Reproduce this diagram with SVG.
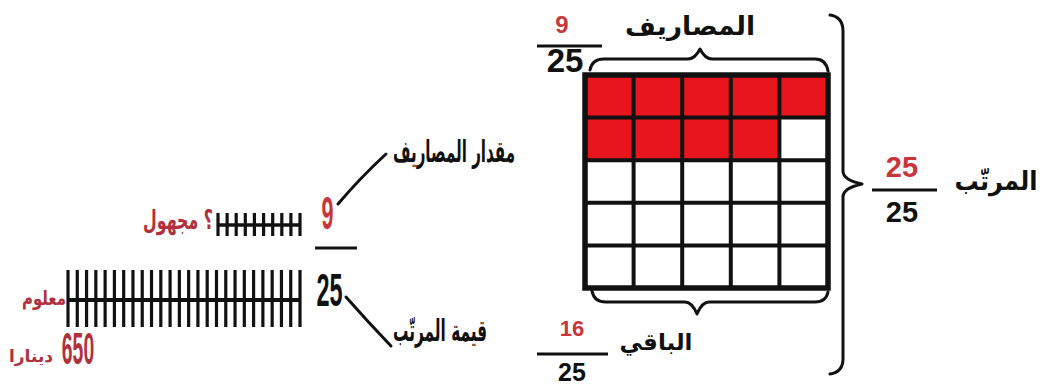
<svg xmlns="http://www.w3.org/2000/svg" width="1044" height="386" viewBox="0 0 1044 386">
<style>
.ar{font-family:"DejaVu Sans","Noto Sans",sans-serif;font-weight:bold;fill:#111;text-anchor:middle}
.arr{font-family:"DejaVu Sans","Noto Sans",sans-serif;font-weight:bold;fill:#b2303c;text-anchor:middle}
.num{font-family:"Liberation Sans",Arial,sans-serif;font-weight:bold;fill:#111;text-anchor:middle}
.numr{font-family:"Liberation Sans",Arial,sans-serif;font-weight:bold;fill:#c8353a;text-anchor:middle}
.ln{stroke:#111;fill:none;stroke-linecap:round;stroke-linejoin:round}
.red{fill:#e8161c}
.tick{stroke:#111;stroke-width:3.2}
</style>
<rect width="1044" height="386" fill="#fff"/>

<g id="grid">
  <g class="red">
    <rect x="585" y="75" width="243" height="42.6"/>
    <rect x="585" y="117.6" width="194.4" height="42.6"/>
  </g>
  <g stroke="#111" stroke-width="4" fill="none">
    <line x1="633.6" y1="75" x2="633.6" y2="288"/>
    <line x1="682.2" y1="75" x2="682.2" y2="288"/>
    <line x1="730.8" y1="75" x2="730.8" y2="288"/>
    <line x1="779.4" y1="75" x2="779.4" y2="288"/>
    <line x1="585" y1="117.6" x2="828" y2="117.6"/>
    <line x1="585" y1="160.2" x2="828" y2="160.2"/>
    <line x1="585" y1="202.8" x2="828" y2="202.8"/>
    <line x1="585" y1="245.4" x2="828" y2="245.4"/>
    <rect x="585" y="75" width="243" height="213" stroke-width="5.5"/>
  </g>
</g>

<g id="braces" class="ln" stroke-width="3">
  <path d="M590 70 Q592 59 604 59 L688 59 Q695 59 700 49 Q705 59 712 59 L815 59 Q826 59 828 71"/>
  <path d="M592 291 Q594 302 606 302 L685 302 Q692 302 697 314 Q702 302 709 302 L815 302 Q826 302 828 292"/>
  <path d="M830 15 Q843 17 843 31 L843 171 Q843 180 862 184 Q843 188 843 197 L843 359 Q843 372 830 374"/>
</g>

<g id="frac-expenses">
  <text class="numr" x="562" y="33" font-size="24">9</text>
  <line x1="537" y1="46" x2="602" y2="46" stroke="#111" stroke-width="3"/>
  <text class="num" x="565" y="72" font-size="33">25</text>
  <text class="ar" x="690" y="35" font-size="26" textLength="130" lengthAdjust="spacingAndGlyphs">المصاريف</text>
</g>

<g id="frac-salary">
  <text class="numr" x="902" y="177" font-size="29">25</text>
  <line x1="872" y1="190" x2="937" y2="190" stroke="#111" stroke-width="3"/>
  <text class="num" x="902" y="222" font-size="29">25</text>
  <text class="ar" x="996" y="190" font-size="26" textLength="83" lengthAdjust="spacingAndGlyphs">المرتّب</text>
</g>

<g id="frac-rest">
  <text class="numr" x="572" y="336" font-size="22">16</text>
  <line x1="537" y1="354" x2="608" y2="354" stroke="#111" stroke-width="3"/>
  <text class="num" x="572" y="381" font-size="25">25</text>
  <text class="ar" x="656" y="350" font-size="23">الباقي</text>
</g>

<g id="frac-left">
  <text class="numr" transform="translate(327.5 229) scale(0.47 1)" font-size="46">9</text>
  <line x1="315" y1="248" x2="357" y2="248" stroke="#111" stroke-width="3"/>
  <text class="num" transform="translate(329.5 306) scale(0.51 1)" font-size="46">25</text>
</g>

<g id="label-expenses-amount">
  <text class="ar" x="454" y="162" font-size="30" textLength="122" lengthAdjust="spacingAndGlyphs">مقدار المصاريف</text>
</g>
<g id="label-salary-value">
  <text class="ar" x="440" y="341" font-size="30" textLength="94" lengthAdjust="spacingAndGlyphs">قيمة المرتّب</text>
</g>

<g id="connectors" class="ln" stroke-width="3">
  <path d="M338 204 Q360 178 386 154"/>
  <path d="M346 297 Q368 322 391 346"/>
</g>

<g id="bar-unknown">
  <line x1="218" y1="225" x2="300" y2="225" stroke="#111" stroke-width="3.5"/>
  <g class="tick">
    <line x1="218" y1="213" x2="218" y2="236"/>
    <line x1="227.1" y1="213" x2="227.1" y2="236"/>
    <line x1="236.2" y1="213" x2="236.2" y2="236"/>
    <line x1="245.3" y1="213" x2="245.3" y2="236"/>
    <line x1="254.4" y1="213" x2="254.4" y2="236"/>
    <line x1="263.6" y1="213" x2="263.6" y2="236"/>
    <line x1="272.7" y1="213" x2="272.7" y2="236"/>
    <line x1="281.8" y1="213" x2="281.8" y2="236"/>
    <line x1="290.9" y1="213" x2="290.9" y2="236"/>
    <line x1="300" y1="213" x2="300" y2="236"/>
  </g>
  <text class="arr" x="178" y="229" font-size="26" textLength="70" lengthAdjust="spacingAndGlyphs">؟ مجهول</text>
</g>

<g id="bar-known">
  <line x1="68" y1="300" x2="300" y2="300" stroke="#111" stroke-width="4"/>
  <g class="tick">
    <line x1="68" y1="270" x2="68" y2="327"/>
    <line x1="77.28" y1="270" x2="77.28" y2="327"/>
    <line x1="86.56" y1="270" x2="86.56" y2="327"/>
    <line x1="95.84" y1="270" x2="95.84" y2="327"/>
    <line x1="105.12" y1="270" x2="105.12" y2="327"/>
    <line x1="114.4" y1="270" x2="114.4" y2="327"/>
    <line x1="123.68" y1="270" x2="123.68" y2="327"/>
    <line x1="132.96" y1="270" x2="132.96" y2="327"/>
    <line x1="142.24" y1="270" x2="142.24" y2="327"/>
    <line x1="151.52" y1="270" x2="151.52" y2="327"/>
    <line x1="160.8" y1="270" x2="160.8" y2="327"/>
    <line x1="170.08" y1="270" x2="170.08" y2="327"/>
    <line x1="179.36" y1="270" x2="179.36" y2="327"/>
    <line x1="188.64" y1="270" x2="188.64" y2="327"/>
    <line x1="197.92" y1="270" x2="197.92" y2="327"/>
    <line x1="207.2" y1="270" x2="207.2" y2="327"/>
    <line x1="216.48" y1="270" x2="216.48" y2="327"/>
    <line x1="225.76" y1="270" x2="225.76" y2="327"/>
    <line x1="235.04" y1="270" x2="235.04" y2="327"/>
    <line x1="244.32" y1="270" x2="244.32" y2="327"/>
    <line x1="253.6" y1="270" x2="253.6" y2="327"/>
    <line x1="262.88" y1="270" x2="262.88" y2="327"/>
    <line x1="272.16" y1="270" x2="272.16" y2="327"/>
    <line x1="281.44" y1="270" x2="281.44" y2="327"/>
    <line x1="290.72" y1="270" x2="290.72" y2="327"/>
    <line x1="300" y1="270" x2="300" y2="327"/>
  </g>
  <text class="arr" x="44" y="305" font-size="20" textLength="44" lengthAdjust="spacingAndGlyphs">معلوم</text>
  <text class="arr" transform="translate(78 364) scale(0.44 1)" font-size="44" style="font-family:'Liberation Sans',Arial,sans-serif">650</text>
  <text class="arr" x="31" y="362" font-size="17">دينارا</text>
</g>
</svg>
